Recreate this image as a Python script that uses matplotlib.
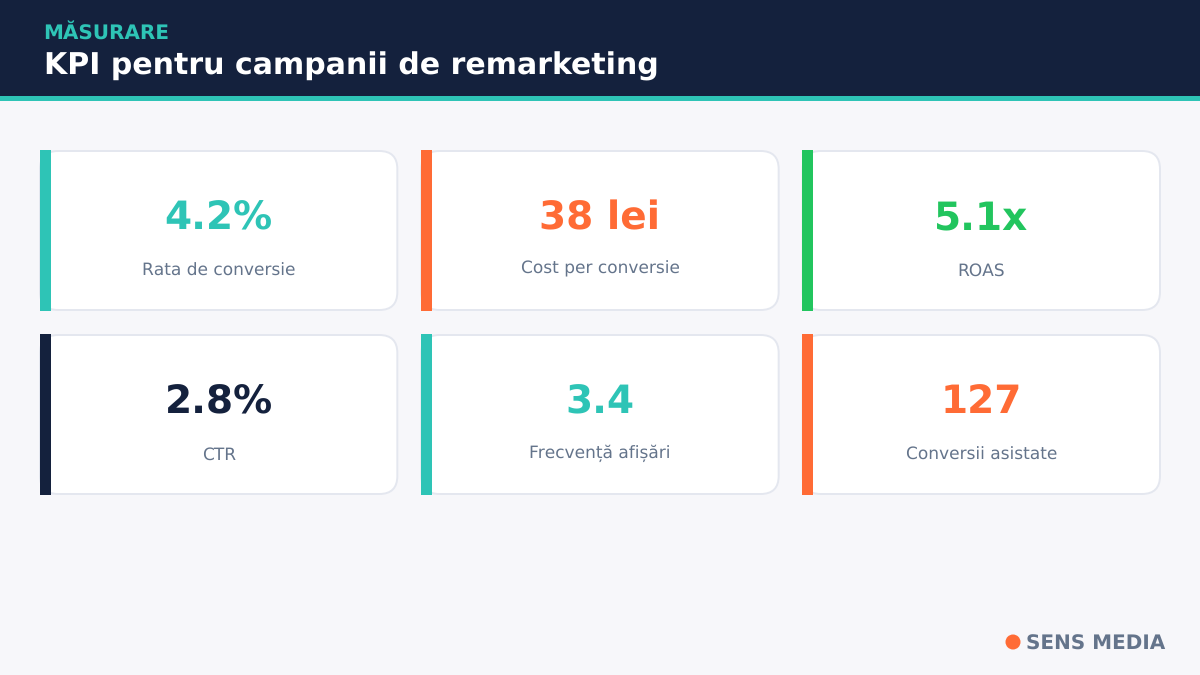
import matplotlib
matplotlib.use('Agg')
import matplotlib.pyplot as plt
from matplotlib.patches import Rectangle, FancyBboxPatch, Circle

plt.rcParams['text.hinting'] = 'none'
plt.rcParams['text.hinting_factor'] = 1

NAVY = '#14213d'
TEAL = '#2ec4b6'
ORANGE = '#ff6b35'
GREEN = '#22c55e'
GREY = '#64748b'

values = ['4.2%', '38 lei', '5.1x', '2.8%', '3.4', '127']
labels = ['Rata de conversie', 'Cost per conversie', 'ROAS',
          'CTR', 'Frecvență afișări', 'Conversii asistate']
colors = [TEAL, ORANGE, GREEN, NAVY, TEAL, ORANGE]
# label baselines sit a little higher when the text has descenders
label_drop = [125, 122, 125, 125, 123, 125]

fig = plt.figure(figsize=(12, 6.75), dpi=100, facecolor='#f7f7fa')
# whole figure is one axes in pixel coordinates, y going down
ax = fig.add_axes([0, 0, 1, 1])
ax.set_xlim(0, 1200)
ax.set_ylim(675, 0)
ax.axis('off')

# header
ax.add_patch(Rectangle((0, 0), 1200, 96, facecolor=NAVY, edgecolor='none'))
ax.add_patch(Rectangle((0, 96), 1200, 5, facecolor=TEAL, edgecolor='none'))
ax.text(43.5, 33.5, 'MĂSURARE', color=TEAL, fontsize=14.4, fontweight='bold', va='center')
ax.text(44, 66.5, 'KPI pentru campanii de remarketing', color='white', fontsize=21.6,
        fontweight='bold', va='center')

# cards
card_w = 357.33
card_h = 159
for i in range(6):
    x = 40 + 381.33 * (i % 3)
    y = 151 + 184 * (i // 3)
    ax.add_patch(FancyBboxPatch((x, y), card_w, card_h,
                                boxstyle='round,pad=0,rounding_size=18',
                                facecolor='white', edgecolor='#e4e7ef', linewidth=1.4))
    ax.add_patch(Rectangle((int(x), y - 1), 11, card_h + 2, facecolor=colors[i], edgecolor='none', zorder=3))
    cx = x + 178.67
    ax.text(cx, y + 78, values[i], color=colors[i], fontsize=28, fontweight='bold',
            ha='center', va='baseline')
    ax.text(cx, y + label_drop[i], labels[i], color=GREY, fontsize=12.2, ha='center', va='baseline')

# footer brand
ax.add_patch(Circle((1013, 642), 7.5, facecolor=ORANGE, edgecolor='none'))
ax.text(1026, 644, 'SENS MEDIA', color=GREY, fontsize=14.4, fontweight='bold', va='center')

fig.savefig('out.png', dpi=100, facecolor=fig.get_facecolor())
